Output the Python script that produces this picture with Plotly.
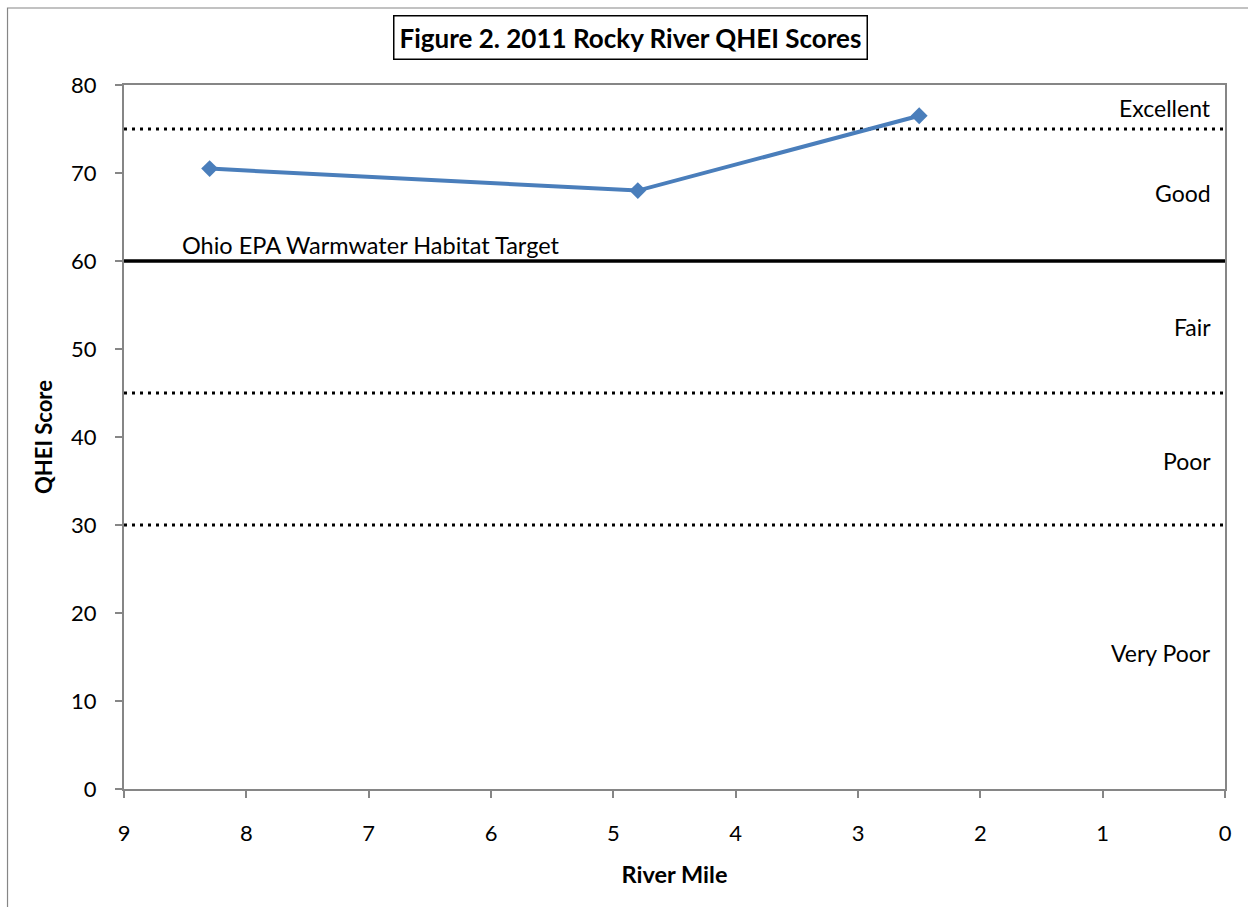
import plotly.graph_objects as go

# River-mile sampling sites and their QHEI scores
river_mile = [8.3, 4.8, 2.5]
qhei_score = [70.5, 68.0, 76.5]

# Narrative rating thresholds
dotted_levels = [75, 45, 30]
target_level = 60

# Rating band labels (text, y position)
band_labels = ["Excellent", "Good", "Fair", "Poor", "Very Poor"]
band_label_y = [77.4, 67.7, 52.5, 37.3, 15.5]

x_ticks = [9, 8, 7, 6, 5, 4, 3, 2, 1, 0]
y_ticks = [0, 10, 20, 30, 40, 50, 60, 70, 80]

FONT = "Lato"
AXIS_GRAY = "#868686"
SERIES_BLUE = "#4A7EBB"

fig = go.Figure()

for lvl in dotted_levels:
    fig.add_trace(go.Scatter(
        x=[x_ticks[0], x_ticks[-1]], y=[lvl, lvl], mode="lines",
        line=dict(color="black", width=3, dash="3px,5px"),
        hoverinfo="skip", showlegend=False))

fig.add_trace(go.Scatter(
    x=[x_ticks[0], x_ticks[-1]], y=[target_level, target_level], mode="lines",
    line=dict(color="black", width=3.5),
    hoverinfo="skip", showlegend=False))

fig.add_trace(go.Scatter(
    x=river_mile, y=qhei_score, mode="lines+markers",
    line=dict(color=SERIES_BLUE, width=4),
    marker=dict(symbol="diamond", size=13, color=SERIES_BLUE),
    showlegend=False))

annotations = []
for txt, yv in zip(band_labels, band_label_y):
    annotations.append(dict(
        x=0.1, y=yv, xref="x", yref="y", text=txt, showarrow=False,
        xanchor="right", yanchor="middle",
        font=dict(family=FONT, size=23, color="black")))

annotations.append(dict(
    x=8.54, y=61.8, xref="x", yref="y", text="Ohio EPA Warmwater Habitat Target",
    showarrow=False, xanchor="left", yanchor="middle",
    font=dict(family=FONT, size=23.5, color="black")))

annotations.append(dict(
    x=0.46, y=1.068, xref="paper", yref="paper",
    text="<b>Figure 2. 2011 Rocky River QHEI Scores</b>",
    showarrow=False, xanchor="center", yanchor="middle",
    bordercolor="black", borderwidth=1.5, borderpad=5,
    font=dict(family=FONT, size=26, color="black")))

fig.update_layout(
    width=1248, height=907,
    margin=dict(l=123.5, r=23.3, t=85, b=118),
    paper_bgcolor="white", plot_bgcolor="white",
    font=dict(family=FONT, size=22, color="black"),
    annotations=annotations,
    shapes=[dict(type="rect", xref="paper", yref="paper",
                 x0=-0.1058, x1=1.2, y0=-0.3, y1=1.1094,
                 line=dict(color=AXIS_GRAY, width=1.2), layer="below")],
)

fig.update_xaxes(
    range=[9, 0], tickvals=x_ticks, ticktext=[str(v) for v in x_ticks],
    showgrid=False, zeroline=False,
    showline=True, linecolor=AXIS_GRAY, linewidth=2, mirror=True,
    ticks="outside", ticklen=7, tickcolor=AXIS_GRAY, tickwidth=1.5,
    tickfont=dict(family=FONT, size=22), ticklabelstandoff=17,
    title=dict(text="<b>River Mile</b>", font=dict(family=FONT, size=23.5), standoff=21),
)

fig.update_yaxes(
    range=[0, 80], tickvals=y_ticks, ticktext=[str(v) for v in y_ticks],
    showgrid=False, zeroline=False,
    showline=True, linecolor=AXIS_GRAY, linewidth=2, mirror=True,
    ticks="outside", ticklen=7, tickcolor=AXIS_GRAY, tickwidth=1.5,
    tickfont=dict(family=FONT, size=22), ticklabelstandoff=14,
    title=dict(text="<b>QHEI Score</b>", font=dict(family=FONT, size=22), standoff=12),
)

fig.write_html("out.html")
